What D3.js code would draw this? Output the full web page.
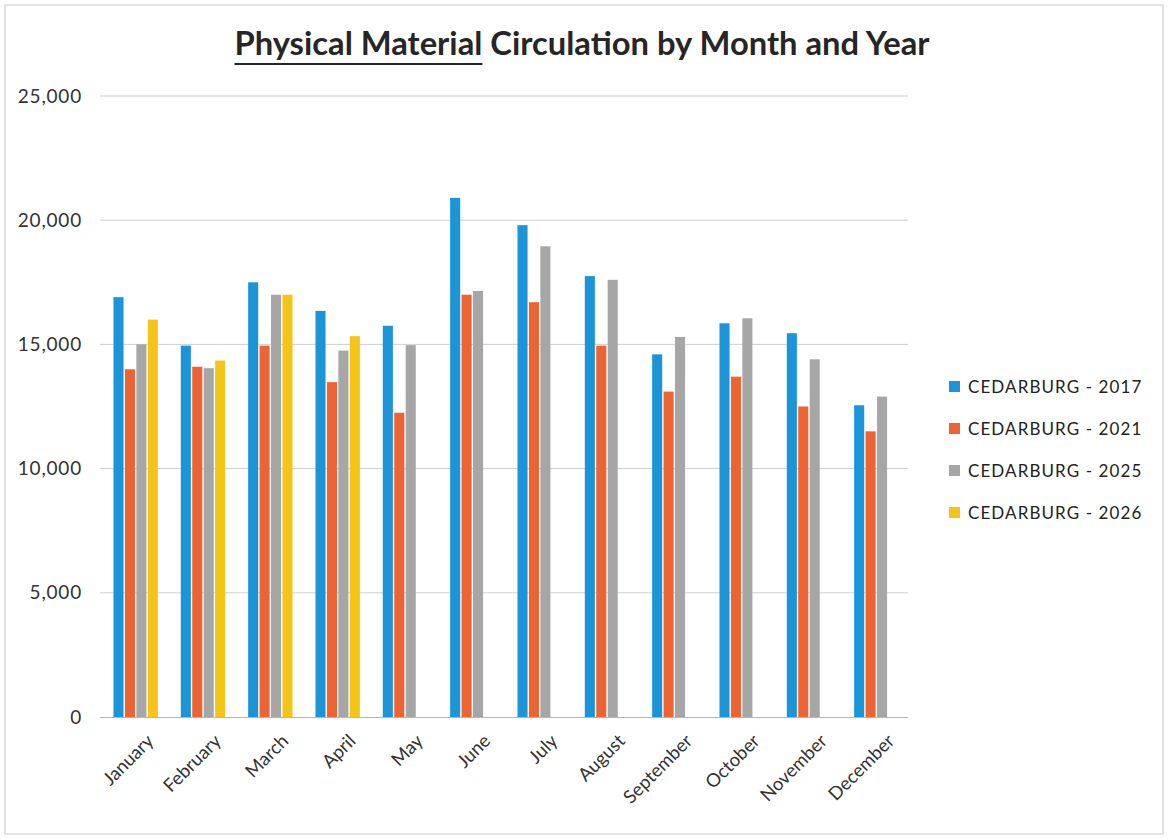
<!DOCTYPE html>
<html>
<head>
<meta charset="utf-8">
<script src="https://cdn.jsdelivr.net/npm/d3@7"></script>
<style>
  body { margin: 0; background: #fff; }
  text { font-family: Lato, "Open Sans", sans-serif; fill: #222; }
</style>
</head>
<body>
<div id="chart"></div>
<script>
// data
var months = ["January", "February", "March", "April", "May", "June", "July",
  "August", "September", "October", "November", "December"];
var seriesNames = ["CEDARBURG - 2017", "CEDARBURG - 2021", "CEDARBURG - 2025", "CEDARBURG - 2026"];
var colors = ["#1b95d8", "#ec6433", "#a6a6a6", "#f4c418"];
var v2017 = [16900, 14950, 17500, 16350, 15750, 20900, 19800, 17750, 14600, 15850, 15450, 12550];
var v2021 = [14000, 14100, 14950, 13480, 12250, 17000, 16700, 14950, 13100, 13700, 12500, 11500];
var v2025 = [15000, 14040, 17000, 14750, 14970, 17150, 18950, 17600, 15300, 16050, 14400, 12900];
var v2026 = [16000, 14350, 17000, 15330, null, null, null, null, null, null, null, null];
var yTicks = [0, 5000, 10000, 15000, 20000, 25000];

var width = 1168, height = 839;
var svg = d3.select("#chart").append("svg").attr("width", width).attr("height", height)

// page frame
svg.append("rect").attr("x", 5).attr("y", 5).attr("width", width - 10).attr("height", height - 10)
  .attr("fill", "none").attr("stroke", "#c9c9c9").attr("stroke-width", 1)

var plot = { left: 102, right: 910, top: 96, bottom: 717 }

var x0 = d3.scaleBand().domain(months).range([plot.left, plot.right]).paddingInner(0.3).paddingOuter(0.15)
var x1 = d3.scaleBand().domain(d3.range(4)).range([0, x0.bandwidth()]).padding(0.12)
var y = d3.scaleLinear().domain([0, 25000]).range([plot.bottom, plot.top])

// gridlines
svg.append("g").selectAll("line").data(yTicks.filter(d => d > 0)).enter().append("line")
  .attr("x1", 100).attr("x2", 908)
  .attr("y1", d => y(d)).attr("y2", d => y(d))
  .attr("stroke", "#cfcfcf").attr("stroke-width", 1)

// y axis labels
var yAxis = d3.axisLeft(y).tickValues(yTicks).tickSize(0).tickPadding(18).tickFormat(d3.format(","))
var gy = svg.append("g").attr("transform", "translate(100,0)").call(yAxis)
gy.select(".domain").remove()
gy.selectAll("text").style("font-size", "19px").style("letter-spacing", "0.8px").style("fill", "#333")

// bars
var all = [v2017, v2021, v2025, v2026]
var groups = svg.append("g").selectAll("g").data(months).enter().append("g")
  .attr("transform", d => "translate(" + x0(d) + ",0)")
groups.selectAll("rect")
  .data((m, i) => all.map((s, k) => ({ k: k, v: s[i] })).filter(d => d.v != null))
  .enter().append("rect")
  .attr("x", d => x1(d.k))
  .attr("width", x1.bandwidth())
  .attr("y", d => y(d.v))
  .attr("height", d => y(0) - y(d.v))
  .attr("fill", d => colors[d.k])

// x axis
svg.append("line").attr("x1", 100).attr("x2", 908).attr("y1", y(0) + 0.5).attr("y2", y(0) + 0.5)
  .attr("stroke", "#b5b5b5").attr("stroke-width", 1.2)
var xAxis = d3.axisBottom(x0).tickSize(0).tickPadding(0)
var gx = svg.append("g").attr("transform", "translate(0," + (y(0) + 10) + ")").call(xAxis)
gx.select(".domain").remove()
gx.selectAll("text")
  .style("font-size", "18.5px").style("fill", "#333")
  .attr("text-anchor", "end")
  .attr("dy", "0.7em")
  .attr("transform", "translate(10,6) rotate(-45)")

// title
var title = svg.append("text").attr("x", 582).attr("y", 55).attr("text-anchor", "middle")
  .style("font-size", "30px").style("font-weight", "bold").style("fill", "#262626")
title.append("tspan").attr("id", "ul").text("Physical Material")
title.append("tspan").text(" Circulation by Month and Year")
// fit title to the width it has in the picture
var tw = title.node().getBBox().width
title.style("font-size", (30 * 696 / tw) + "px")
var bb = document.getElementById("ul").getBBox()
svg.append("line").attr("x1", bb.x).attr("x2", bb.x + bb.width)
  .attr("y1", 64).attr("y2", 64).attr("stroke", "#262626").attr("stroke-width", 2)

// legend
var legend = svg.append("g").selectAll("g").data(seriesNames).enter().append("g")
  .attr("transform", (d, i) => "translate(949," + (387 + i * 42) + ")")
legend.append("rect").attr("x", 0).attr("y", -6).attr("width", 11).attr("height", 11)
  .attr("fill", (d, i) => colors[i])
legend.append("text").attr("x", 19).attr("y", 0).attr("dy", "0.35em")
  .style("font-size", "17px").style("letter-spacing", "1.1px").style("fill", "#222")
  .text(d => d)
</script>
</body>
</html>
